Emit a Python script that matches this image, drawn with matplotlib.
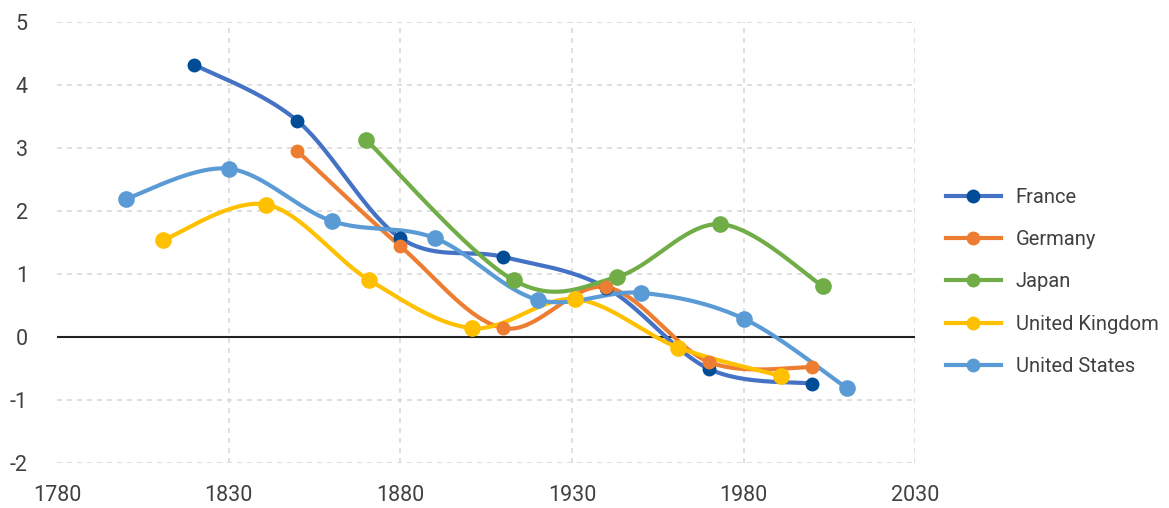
import numpy as np
import matplotlib.pyplot as plt
from matplotlib.lines import Line2D

plt.rcParams['font.family'] = ['Roboto', 'DejaVu Sans']
plt.rcParams['axes.unicode_minus'] = False

countries = ["France", "Germany", "Japan", "United Kingdom", "United States"]

france_x = [1820, 1850, 1880, 1910, 1940, 1970, 2000]
france_y = [4.32, 3.43, 1.57, 1.27, 0.78, -0.51, -0.74]

germany_x = [1850, 1880, 1910, 1940, 1970, 2000]
germany_y = [2.95, 1.44, 0.14, 0.79, -0.40, -0.48]

japan_x = [1870, 1913, 1943, 1973, 2003]
japan_y = [3.13, 0.90, 0.95, 1.79, 0.81]

uk_x = [1811, 1841, 1871, 1901, 1931, 1961, 1991]
uk_y = [1.54, 2.10, 0.90, 0.14, 0.60, -0.17, -0.62]

us_x = [1800, 1830, 1860, 1890, 1920, 1950, 1980, 2010]
us_y = [2.19, 2.67, 1.84, 1.57, 0.59, 0.70, 0.29, -0.81]

series = [(france_x, france_y), (germany_x, germany_y), (japan_x, japan_y),
          (uk_x, uk_y), (us_x, us_y)]
line_colors = ["#4472C4", "#ED7D31", "#70AD47", "#FFC000", "#5B9BD5"]
marker_colors = ["#004C97", "#ED7D31", "#70AD47", "#FFC000", "#5B9BD5"]
marker_sizes = [10, 10, 12, 12, 12]
text_color = '#404040'


def smooth(xs, ys, n=40):
    # excel-like smoothed line: bezier segments with catmull-rom control points
    p = np.column_stack([xs, ys]).astype(float)
    out = []
    for i in range(len(p) - 1):
        p0 = p[i - 1] if i > 0 else p[i]
        p1 = p[i]
        p2 = p[i + 1]
        p3 = p[i + 2] if i + 2 < len(p) else p[i + 1]
        c1 = p1 + (p2 - p0) / 6
        c2 = p2 - (p3 - p1) / 6
        t = np.linspace(0, 1, n)[:, None]
        seg = ((1 - t) ** 3) * p1 + 3 * ((1 - t) ** 2) * t * c1 + 3 * (1 - t) * t ** 2 * c2 + t ** 3 * p2
        out.append(seg if i == 0 else seg[1:])
    out = np.vstack(out)
    return out[:, 0], out[:, 1]


fig = plt.figure(figsize=(11.69, 5.08), dpi=100)
ax = fig.add_axes([0.0488, 0.0886, 0.7342, 0.8684])

for (xs, ys), lc, mc, ms in zip(series, line_colors, marker_colors, marker_sizes):
    sx, sy = smooth(xs, ys)
    ax.plot(sx, sy, color=lc, lw=3, solid_capstyle='round', zorder=3)
    ax.plot(xs, ys, 'o', color=mc, ms=ms, mec='none', zorder=4)

ax.axhline(0, color='#222222', lw=1.5, zorder=2)

ax.set_xlim(1780, 2030)
ax.set_ylim(-2, 5)
xticks = np.arange(1780, 2031, 50)
ax.set_xticks(xticks)
ax.set_yticks(np.arange(-2, 6, 1))
ax.grid(True, axis='y', color='#D9D9D9', ls=(0, (3, 3)), lw=1.2, zorder=1)
for xv in xticks[1:]:
    ax.axvline(xv, color='#D9D9D9', ls=(0, (3, 3)), lw=1.2, zorder=1)
for s in ax.spines.values():
    s.set_visible(False)
ax.tick_params(length=0, labelsize=15.5, colors=text_color)
ax.tick_params(axis='y', pad=21)
ax.tick_params(axis='x', pad=16)

handles = [Line2D([], [], color=lc, lw=3, marker='o', ms=10, mfc=mc, mec='none')
           for lc, mc in zip(line_colors, marker_colors)]
fig.legend(handles, countries, loc='center left', bbox_to_anchor=(0.794, 0.445),
           frameon=False, fontsize=14.5, handlelength=2.7, labelspacing=1.15,
           handletextpad=0.75, labelcolor=text_color)

fig.savefig("out.png", dpi=100)
